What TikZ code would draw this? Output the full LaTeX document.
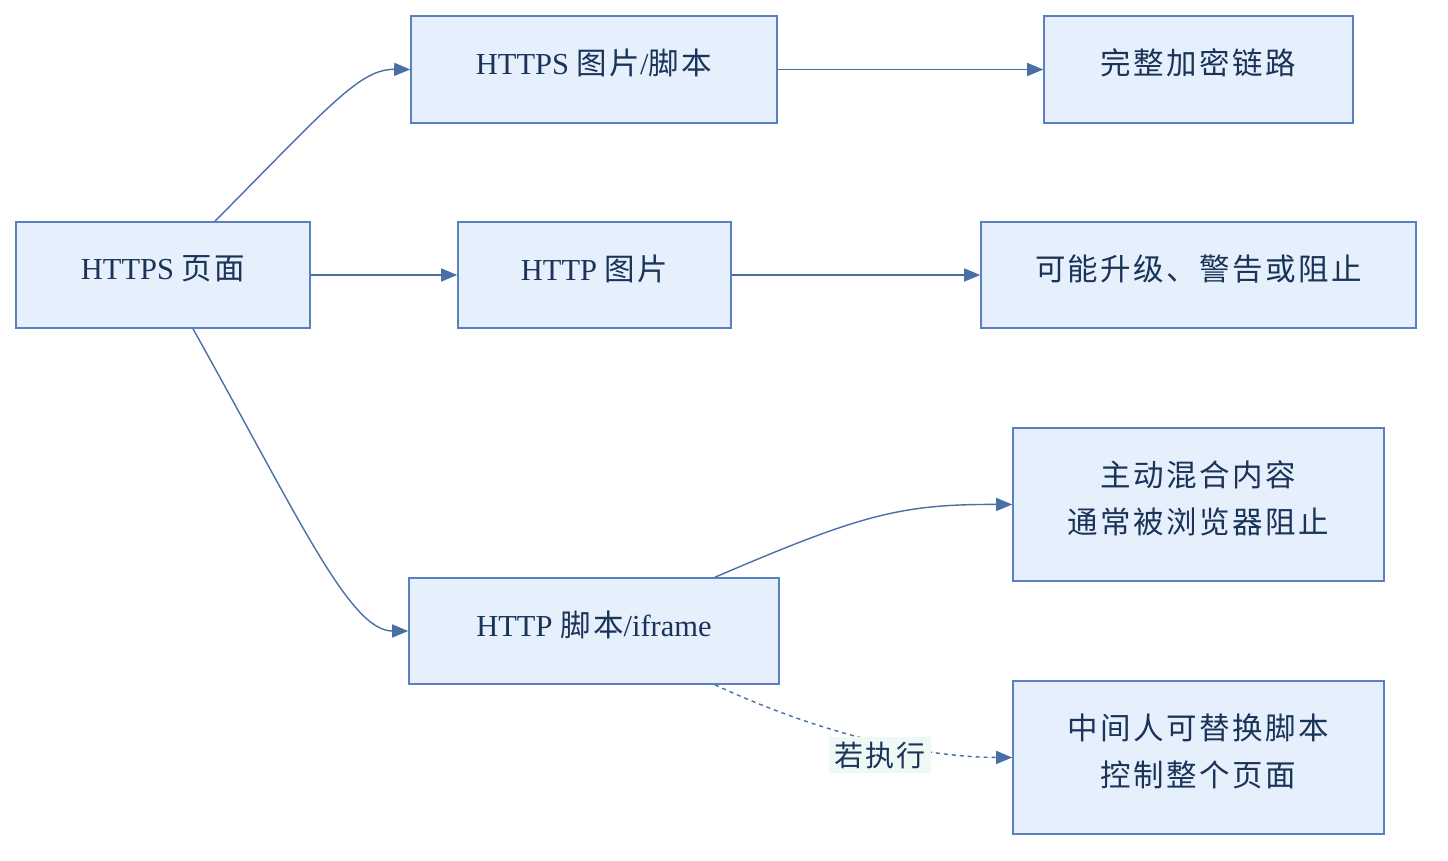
\documentclass[tikz,border=0pt]{standalone}
\usepackage{fontspec}
\setmainfont{Liberation Serif}
\newfontfamily\cjk[LetterSpace=8]{Noto Sans CJK SC}
\usetikzlibrary{arrows.meta}
\definecolor{boxfill}{HTML}{E6F0FD}
\definecolor{boxline}{HTML}{5B80C0}
\definecolor{txt}{HTML}{1A3358}
\definecolor{edge}{HTML}{4A6FA5}
\definecolor{lblbg}{HTML}{EEF8F4}
\tikzset{
  box/.style={draw=boxline, fill=boxfill, line width=1.6pt, inner sep=0pt, text=txt,
    font=\fontsize{30.5}{47}\selectfont, align=center, text depth=15pt},
  conn/.style={draw=edge, line width=1.4pt, -{Triangle[length=16pt,width=13pt]}},
  dconn/.style={conn, dash pattern=on 4pt off 4pt},
  lbl/.style={fill=lblbg, text=txt, font=\fontsize{29}{34}\selectfont\cjk, inner xsep=5pt, inner ysep=5pt}
}
\begin{document}
\begin{tikzpicture}[x=1pt,y=-1pt]
\useasboundingbox (0,0) rectangle (1448,860);
\node[box, minimum width=294pt, minimum height=106pt] (page) at (163,275) {HTTPS {\cjk 页面}};
\node[box, minimum width=366pt, minimum height=107pt] (sec) at (594,69.5) {HTTPS {\cjk 图片}/{\cjk 脚本}};
\node[box, minimum width=309pt, minimum height=107pt] (full) at (1198.5,69.5) {\cjk 完整加密链路};
\node[box, minimum width=273pt, minimum height=106pt] (img) at (594.5,275) {HTTP {\cjk 图片}};
\node[box, minimum width=435pt, minimum height=106pt] (warn) at (1198.5,275) {\cjk 可能升级、警告或阻止};
\node[box, minimum width=370pt, minimum height=106pt] (scr) at (594,631) {HTTP {\cjk 脚本}/iframe};
\node[box, minimum width=371pt, minimum height=153pt] (act) at (1198.5,504.5) {\cjk 主动混合内容\\\cjk 通常被浏览器阻止};
\node[box, minimum width=371pt, minimum height=153pt] (mitm) at (1198.5,757.5) {\cjk 中间人可替换脚本\\\cjk 控制整个页面};

\draw[conn] ([xshift=52pt]page.north) .. controls (330,105) and (360,69) .. (sec.west);
\draw[conn] (page.east) -- (img.west);
\draw[conn] ([xshift=30pt]page.south) .. controls (300,520) and (350,631) .. (scr.west);
\draw[conn] (sec.east) -- (full.west);
\draw[conn] (img.east) -- (warn.west);
\draw[conn] ([xshift=121pt]scr.north) .. controls (860,515) and (900,504) .. (act.west);
\draw[dconn] ([xshift=121pt]scr.south) .. controls (790,720) and (900,757) .. (mitm.west);
\node[lbl] (cond) at (880,755) {若执行};
\end{tikzpicture}
\end{document}
